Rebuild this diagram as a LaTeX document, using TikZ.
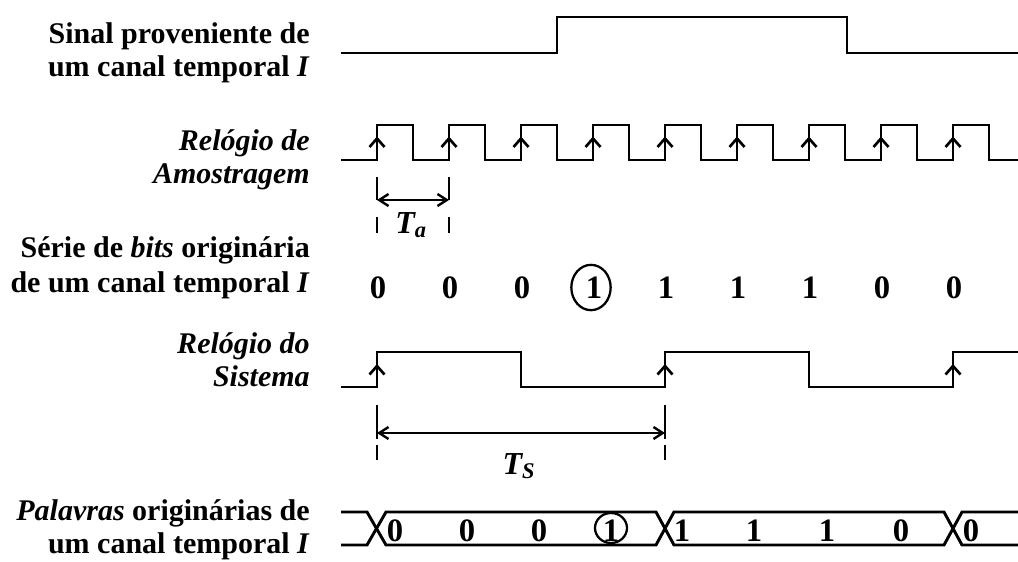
\documentclass[tikz,border=0pt]{standalone}
\usepackage{fontspec}
\setmainfont{Liberation Serif}
\usetikzlibrary{arrows.meta,shapes.geometric}
\begin{document}
\begin{tikzpicture}[x=0.75pt,y=-0.75pt,
  wave/.style={line width=2.2pt, line join=miter},
  edgemark/.style={line width=2pt},
  dimline/.style={line width=1.8pt, {Straight Barb[length=7pt,width=9pt]}-{Straight Barb[length=7pt,width=9pt]}},
  dashmark/.style={line width=1.8pt},
  lab/.style={font=\fontsize{22.5}{25}\selectfont\bfseries, anchor=base east, inner sep=0pt},
  bit/.style={font=\fontsize{24.5}{26}\selectfont\bfseries, inner sep=0pt, anchor=base},
  per/.style={font=\fontsize{24}{26}\selectfont\bfseries\itshape, inner sep=0pt, anchor=base},
  ring/.style={draw, ellipse, line width=1.7pt, inner sep=0pt},
]
\useasboundingbox (0,0) rectangle (1018,561);

% labels
\node[lab] (l1a) at (310,43) {Sinal proveniente de};
\node[lab] (l1b) at (310,76) {um canal temporal \textit{I}};
\node[lab] (l2a) at (310,150) {\itshape Relógio de};
\node[lab] (l2b) at (310,183) {\itshape Amostragem};
\node[lab] (l3a) at (310,257) {Série de \textit{bits} originária};
\node[lab] (l3b) at (310,292) {de um canal temporal \textit{I}};
\node[lab] (l4a) at (310,353) {\itshape Relógio do};
\node[lab] (l4b) at (310,386) {\itshape Sistema};
\node[lab] (l5a) at (310,520) {\textit{Palavras} originárias de};
\node[lab] (l5b) at (310,553) {um canal temporal \textit{I}};

% signal from time channel
\draw[wave] (341,53) -- (557,53) -- (557,17) -- (847,17) -- (847,53) -- (1018,53);

% sampling clock
\draw[wave] (341,160)
  \foreach \k in {0,...,8} { -- ({377+72*\k},160) -- ({377+72*\k},125) -- ({413+72*\k},125) -- ({413+72*\k},160) }
  -- (1018,160);
\foreach \k in {0,...,8}
  \draw[edgemark] ({369.5+72*\k},147) -- ({377+72*\k},138.5) -- ({384.5+72*\k},147);

% Ta
\draw[dashmark] (377,177) -- (377,200) (377,217) -- (377,233)
                (449,177) -- (449,200) (449,217) -- (449,233);
\coordinate (ta1) at (377,200);
\coordinate (ta2) at (449,200);
\draw[dimline] (ta1) -- (ta2);
\node[per] (ta) at (411,233) {T\textsubscript{a}};

% bit series
\foreach \b [count=\i from 0] in {0,0,0,1,1,1,1,0,0}
  \node[bit] (b\i) at ({378+72*\i},298.3) {\b};
\node[ring, minimum width=29.5pt, minimum height=34pt] (c3) at (591,287.5) {};

% system clock
\draw[wave] (341,387) -- (377,387) -- (377,352) -- (521,352) -- (521,387) -- (665,387)
  -- (665,352) -- (809,352) -- (809,387) -- (953,387) -- (953,352) -- (1018,352);
\foreach \x in {377,665,953}
  \draw[edgemark] ({\x-7.5},374.5) -- (\x,366) -- ({\x+7.5},374.5);

% Ts
\draw[dashmark] (377,405) -- (377,439) (377,445) -- (377,460)
                (665,405) -- (665,439) (665,445) -- (665,460);
\coordinate (ts1) at (377,433);
\coordinate (ts2) at (665,433);
\draw[dimline] (ts1) -- (ts2);
\node[per] (ts) at (519,474) {T\textsubscript{S}};

% words
\draw[wave] (341,512) -- (367,512) -- (386,545) -- (656,545) -- (674,512) -- (944,512) -- (962,545) -- (1018,545);
\draw[wave] (341,545) -- (367,545) -- (386,512) -- (656,512) -- (674,545) -- (944,545) -- (962,512) -- (1018,512);
\node[bit] (w0) at (395,541.7) {0};
\node[bit] (w1) at (467,541.7) {0};
\node[bit] (w2) at (539,541.7) {0};
\node[bit] (w3) at (611,541.7) {1};
\node[bit] (w4) at (682,541.7) {1};
\node[bit] (w5) at (754,541.7) {1};
\node[bit] (w6) at (827,541.7) {1};
\node[bit] (w7) at (901,541.7) {0};
\node[bit] (w8) at (971,541.7) {0};
\node[ring, minimum width=24pt, minimum height=22.5pt] (c8) at (611,528) {};
\end{tikzpicture}
\end{document}
